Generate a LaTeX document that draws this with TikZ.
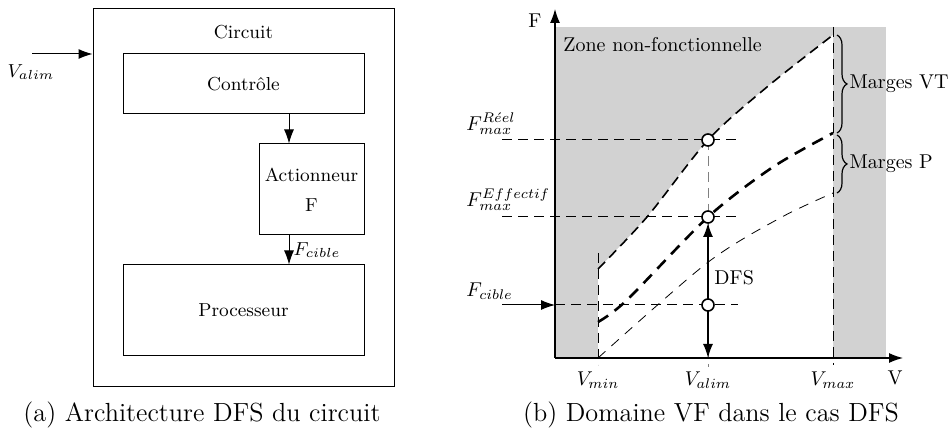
\RequirePackage{fix-cm}
\documentclass[tikz,border=0pt]{standalone}
\usepackage{amsmath}
\usepackage{tikz}
\usetikzlibrary{calc}
\usetikzlibrary{arrows.meta}
\usetikzlibrary{positioning}
\usetikzlibrary{decorations.pathreplacing}
\tikzset{>={Latex[length=7pt,width=5pt]}}
\tikzstyle{bloc} = [draw, rectangle, inner sep=0, line width=0.5pt, font=\fontsize{9.4}{11}\selectfont]
\tikzstyle{lbl} = [inner sep=0, font=\fontsize{9.4}{11}\selectfont]
\tikzstyle{txt} = [inner sep=0, font=\fontsize{10}{12}\selectfont]
\tikzstyle{guide} = [dash pattern=on 5pt off 3pt, line width=0.5pt]
\tikzstyle{pt} = [circle, draw, fill=white, line width=0.8pt, minimum size=6pt, inner sep=0]
\tikzstyle{legende} = [inner sep=0, font=\fontsize{13.1}{15}\selectfont]
\tikzstyle{accol} = [decorate, decoration={brace, amplitude=5pt}, line width=0.6pt]

\begin{document}
\begin{tikzpicture}[x=0.5pt, y=-0.5pt]
\useasboundingbox (0,0) rectangle (952,432);

% (a) architecture du circuit
\node [bloc, minimum width=150.5pt, minimum height=188.5pt] (circ) at (243.5,197.5) {};
\node [lbl] (titre) at (243.5,32) {Circuit};
\node [bloc, minimum width=120.5pt, minimum height=30pt] (ctrl) at (243.5,84) {Contrôle};
\node [bloc, minimum width=52.5pt, minimum height=45.5pt, align=center,
       font=\fontsize{9.4}{15}\selectfont] (act) at (311.5,189.5) {Actionneur\\F};
\node [bloc, minimum width=120.5pt, minimum height=45.5pt] (proc) at (243.5,310.5) {Processeur};
\coordinate (x0) at (289,0);
\draw [->, line width=0.5pt] (ctrl.south -| x0) -- (act.north -| x0);
\draw [->, line width=0.5pt] (act.south -| x0) -- node [lbl, right=2pt] (fcib) {$F_{cible}$} (proc.north -| x0);
\coordinate (vin) at (32,54);
\draw [->, line width=0.5pt] (vin) -- (vin -| circ.west);
\node [lbl] (valim) at (31,72) {$V_{alim}$};
\node [legende] (capa) at (202,415) {(a) Architecture DFS du circuit};

% (b) domaine VF
\coordinate (O) at (555,358);
\coordinate (pR) at (708,140);
\coordinate (pE) at (708,217);
\coordinate (pC) at (708,305);
\fill [gray!35] (555,27) rectangle (886,358);
\fill [white] (598,358) -- plot [smooth] coordinates {(598,269) (647,217) (708,140) (767,87) (833,35)} -- (833,358) -- cycle;

\draw [guide] (598,253) -- (598,365);
\draw [guide] (833,27) -- (833,365);
\draw [guide, gray] (pR) -- (pR |- 0,367);
\draw [guide] (502,140) -- (738,140);
\draw [guide] (502,217) -- (738,217);
\draw [guide] (pC -| O) -- (738,305);
\coordinate (fin) at (502,305);
\draw [->, line width=0.5pt] (fin) -- (fin -| O);

\draw [dash pattern=on 5pt off 3pt, line width=0.8pt] plot [smooth] coordinates {(598,269) (647,217) (708,140) (767,87) (833,35)};
\draw [dash pattern=on 6pt off 4pt, line width=1.3pt] plot [smooth] coordinates {(598,322) (627,300) (708,217) (773,167) (833,133)};
\draw [dash pattern=on 5pt off 4pt, line width=0.4pt] plot [smooth] coordinates {(598,358) (707,263) (780,218) (833,193)};

\draw [->, line width=0.6pt] (O) -- (555,9);
\draw [->, line width=0.6pt] (O) -- (903,358);
\draw [<->, line width=0.8pt, shorten <=3pt] (pE) -- (pE |- O);

\node [pt] (cR) at (pR) {};
\node [pt] (cE) at (pE) {};
\node [pt] (cC) at (pC) {};

\node [txt] (axF) at (535,21) {F};
\node [txt] (axV) at (895,378) {V};
\node [txt] (vmin) at (598,380) {$V_{min}$};
\node [txt] (valb) at (708,380) {$V_{alim}$};
\node [txt] (vmax) at (833,380) {$V_{max}$};
\node [txt, anchor=west] (zone) at (563,45) {Zone non-fonctionnelle};
\node [txt, anchor=west] (lR) at (466,124) {$F_{max}^{R\acute{e}el}$};
\node [txt, anchor=west] (lE) at (466,200) {$F_{max}^{Effectif}$};
\node [txt, anchor=west] (lC) at (466,291) {$F_{cible}$};
\node [txt, anchor=west] (dfs) at (714,278) {DFS};

\draw [accol] (837,35) -- (837,133) node [txt, midway, right=6pt] (mVT) {Marges VT};
\draw [accol] (837,135) -- (837,193) node [txt, midway, right=6pt] (mP) {Marges P};

\node [legende] (capb) at (711,415) {(b) Domaine VF dans le cas DFS};
\end{tikzpicture}
\end{document}
